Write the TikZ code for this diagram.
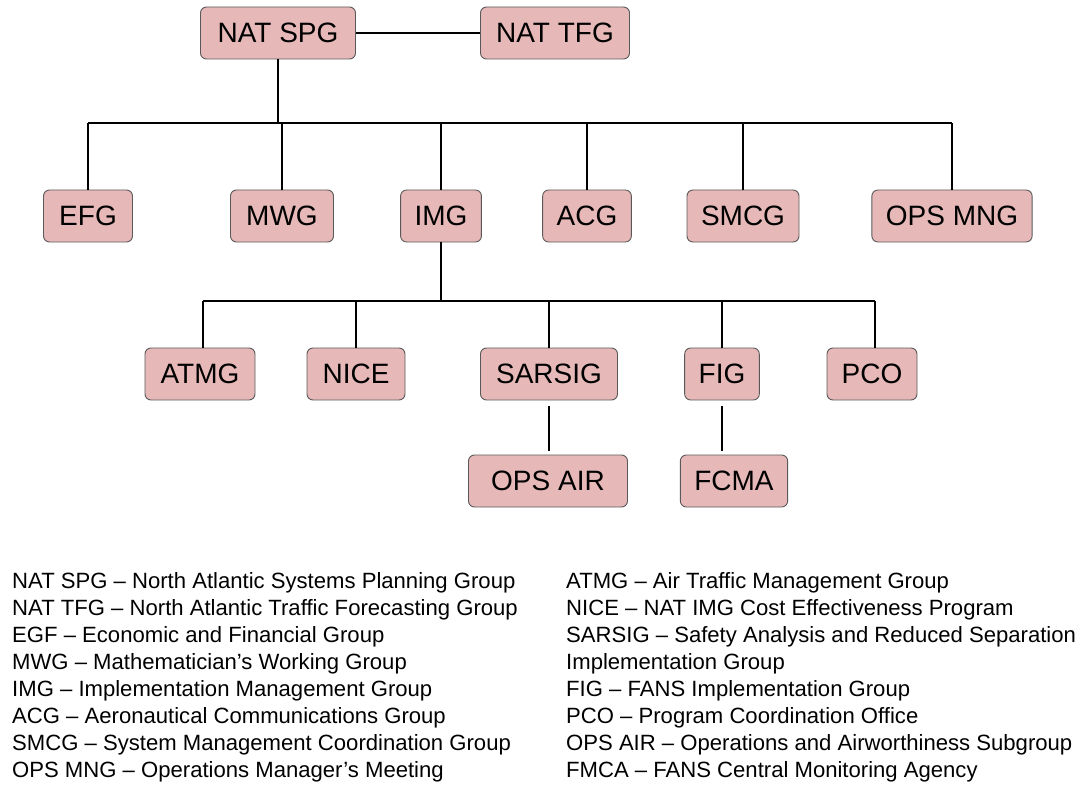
\documentclass[tikz,border=0pt]{standalone}
\usepackage{fontspec}
\setmainfont{Liberation Sans}
\begin{document}
\begin{tikzpicture}[x=1pt,y=-1pt,
  org/.style={draw=black!65, line width=0.9pt, fill=boxpink, rounded corners=6pt,
    minimum height=52pt, inner xsep=14pt, font=\fontsize{28}{30}\selectfont},
  conn/.style={line width=2.9pt, black},
  legend/.style={anchor=west, inner sep=0pt, font=\fontsize{22.1}{24}\selectfont}]
\definecolor{boxpink}{RGB}{230,185,184}
\useasboundingbox (0,0) rectangle (1077,789);
% level 1
\node[org, minimum width=155pt] (spg) at (278,33) {NAT SPG};
\node[org, minimum width=149pt] (tfg) at (555,33) {NAT TFG};
% level 2
\node[org, minimum width=89pt] (efg) at (88,216) {EFG};
\node[org, minimum width=103pt] (mwg) at (282,216) {MWG};
\node[org, minimum width=74pt] (img) at (441,216) {IMG};
\node[org, minimum width=77pt] (acg) at (587,216) {ACG};
\node[org, minimum width=103pt] (smcg) at (743,216) {SMCG};
\node[org, minimum width=156pt] (opsmng) at (952,216) {OPS MNG};
% level 3
\node[org, minimum width=110pt] (atmg) at (200,374) {ATMG};
\node[org, minimum width=98pt] (nice) at (356,374) {NICE};
\node[org, minimum width=137pt] (sarsig) at (549,374) {SARSIG};
\node[org, minimum width=62pt] (fig) at (722,374) {FIG};
\node[org, minimum width=90pt] (pco) at (872,374) {PCO};
% level 4
\node[org, minimum width=159pt] (opsair) at (548,481) {OPS AIR};
\node[org, minimum width=98pt] (fcma) at (734,481) {FCMA};
% connectors
\coordinate (b1) at (278,123);
\coordinate (b2) at (441,301);
\draw[conn] (spg) -- (tfg);
\draw[conn] (spg.south) -- (b1);
\draw[conn] (efg.north |- b1) -- (opsmng.north |- b1);
\foreach \n in {efg,mwg,img,acg,smcg,opsmng} \draw[conn] (\n.north) -- (\n.north |- b1);
\draw[conn] (img.south) -- (b2);
\coordinate (d1) at (203,0);
\coordinate (d5) at (875,0);
\draw[conn] (d1 |- b2) -- (d5 |- b2);
\draw[conn] (d1 |- b2) -- (d1 |- atmg.north);
\draw[conn] (d5 |- b2) -- (d5 |- pco.north);
\foreach \n in {nice,sarsig,fig} \draw[conn] (\n.north) -- (\n.north |- b2);
\draw[conn] ([yshift=-6pt]sarsig.south) -- ([yshift=4pt]sarsig.south |- opsair.north);
\draw[conn] ([yshift=-6pt]fig.south) -- ([yshift=4pt]fig.south |- fcma.north);
% legend
\foreach \t [count=\i from 0] in {NAT SPG – North Atlantic Systems Planning Group,
  NAT TFG – North Atlantic Traffic Forecasting Group,
  EGF – Economic and Financial Group,
  MWG – Mathematician’s Working Group,
  IMG – Implementation Management Group,
  ACG – Aeronautical Communications Group,
  SMCG – System Management Coordination Group,
  OPS MNG – Operations Manager’s Meeting}
  \node[legend] (l\i) at (12,583+26.9*\i) {\t};
\foreach \t [count=\i from 0] in {ATMG – Air Traffic Management Group,
  NICE – NAT IMG Cost Effectiveness Program,
  SARSIG – Safety Analysis and Reduced Separation,
  Implementation Group,
  FIG – FANS Implementation Group,
  PCO – Program Coordination Office,
  OPS AIR – Operations and Airworthiness Subgroup,
  FMCA – FANS Central Monitoring Agency}
  \node[legend] (r\i) at (566,583+26.9*\i) {\t};
\end{tikzpicture}
\end{document}
